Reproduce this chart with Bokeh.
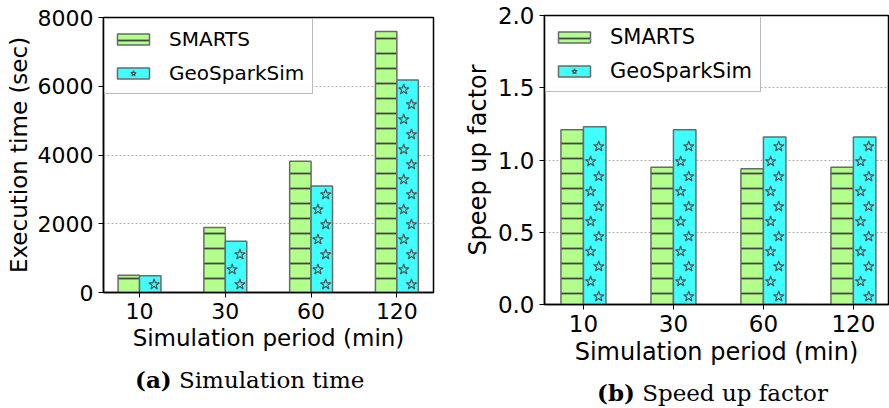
from bokeh.plotting import figure
from bokeh.layouts import row, column
from bokeh.models import Range1d, FixedTicker, Div
from bokeh.embed import file_html
from bokeh.resources import INLINE

# ---- data ----
periods = ["10", "30", "60", "120"]
series = ["SMARTS", "GeoSparkSim"]
exec_smarts = [500, 1890, 3820, 7590]
exec_geo = [490, 1490, 3100, 6180]
speed_smarts = [1.21, 0.95, 0.94, 0.95]
speed_geo = [1.23, 1.21, 1.16, 1.16]
exec_ticks = [0, 2000, 4000, 6000, 8000]
speed_ticks = [0.0, 0.5, 1.0, 1.5, 2.0]
speed_tick_labels = ["0.0", "0.5", "1.0", "1.5", "2.0"]

GREEN = "#b3ff8c"
CYAN = "#40ffff"
EDGE = "#6a6a6a"
HATCH = "#444444"
STAR = "#555555"


def star_points(centers, tops, w, ppx_x, ppx_y, step=15.0, start=8.0, r=4.5):
    """Star hatch positions derived from each bar's extent (staggered rows)."""
    xs, ys = [], []
    for xc, top in zip(centers, tops):
        h_px = top * ppx_y
        y, k = start, 0
        while y + r <= h_px - 1:
            frac = 0.68 if k % 2 == 0 else 0.32
            xs.append(xc - w / 2 + frac * w)
            ys.append(y / ppx_y)
            y += step
            k += 1
    return xs, ys


def make_fig(width, height, borders, xr, yr, yvals, ticks, tick_labels, ylabel,
             fs_tick, fs_lab, fs_leg):
    left, right, top, bottom = borders
    p = figure(width=width, height=height, x_range=Range1d(*xr), y_range=Range1d(*yr),
               output_backend="svg", toolbar_location=None,
               min_border_left=left, min_border_right=right,
               min_border_top=top, min_border_bottom=bottom)
    try:
        p.frame_align = False
    except Exception:
        pass
    xs = list(range(len(periods)))
    w = 0.25
    ppx_x = (width - left - right) / (xr[1] - xr[0])
    ppx_y = (height - top - bottom) / (yr[1] - yr[0])

    p.vbar(x=[x - w / 2 for x in xs], top=yvals[0], width=w, bottom=0,
           fill_color=GREEN, line_color=EDGE, line_width=1.5,
           hatch_pattern="horizontal_line", hatch_color=HATCH, hatch_scale=15, hatch_weight=1.8,
           legend_label=series[0])
    geo_x = [x + w / 2 for x in xs]
    p.vbar(x=geo_x, top=yvals[1], width=w, bottom=0,
           fill_color=CYAN, line_color=EDGE, line_width=1.5,
           legend_label=series[1])
    sx, sy = star_points(geo_x, yvals[1], w, ppx_x, ppx_y)
    p.scatter(x=sx, y=sy, marker="star", size=11, fill_color=None,
              line_color=STAR, line_width=1.2, legend_label=series[1])

    p.outline_line_color = "black"
    p.outline_line_width = 1.5
    p.xgrid.grid_line_color = None
    p.ygrid.grid_line_color = "#b0b0b0"
    p.ygrid.grid_line_dash = "2 2"
    p.ygrid.grid_line_width = 1

    p.xaxis.ticker = FixedTicker(ticks=xs)
    p.xaxis.major_label_overrides = {i: periods[i] for i in xs}
    p.yaxis.ticker = FixedTicker(ticks=ticks)
    p.yaxis.major_label_overrides = {t: l for t, l in zip(ticks, tick_labels)}
    for ax in (p.xaxis[0], p.yaxis[0]):
        ax.axis_line_color = "black"
        ax.axis_line_width = 1.5
        ax.major_tick_in = 0
        ax.major_tick_out = 5
        ax.major_tick_line_color = "black"
        ax.minor_tick_line_color = None
        ax.major_label_text_font = "DejaVu Sans"
        ax.major_label_text_font_size = fs_tick
        ax.major_label_text_color = "black"
        ax.major_label_standoff = 5
        ax.axis_label_text_font = "DejaVu Sans"
        ax.axis_label_text_font_size = fs_lab
        ax.axis_label_text_font_style = "normal"
        ax.axis_label_text_color = "black"
        ax.axis_label_standoff = 3
    p.xaxis.axis_label = "Simulation period (min)"
    p.yaxis.axis_label = ylabel

    lg = p.legend[0]
    lg.location = "top_left"
    lg.margin = 1
    lg.padding = 8
    lg.spacing = 10
    lg.glyph_width = 40
    lg.glyph_height = 14
    lg.label_height = 20
    lg.label_standoff = 16
    lg.label_text_font = "DejaVu Sans"
    lg.label_text_font_size = fs_leg
    lg.label_text_color = "black"
    lg.border_line_color = "#777777"
    lg.border_line_width = 1
    lg.background_fill_alpha = 0.9
    return p


def caption(bold, rest, width, height, pad_left, pad_top):
    return Div(text="<b>%s</b> %s" % (bold, rest), width=width, height=height,
               styles={"font-family": "'DejaVu Serif', serif", "font-size": "23px",
                       "line-height": "27px", "color": "black", "white-space": "nowrap",
                       "padding-left": "%dpx" % pad_left, "padding-top": "%dpx" % pad_top,
                       "box-sizing": "border-box", "margin": "0"})


p1 = make_fig(440, 366, (103, 7, 17, 74), (-0.42, 3.427), (0, 8000),
              [exec_smarts, exec_geo], exec_ticks, [str(t) for t in exec_ticks],
              "Execution time (sec)", "22px", "23px", "20px")
p2 = make_fig(449, 379, (104, 1, 15, 75), (-0.433, 3.39), (0, 2.0),
              [speed_smarts, speed_geo], speed_ticks, speed_tick_labels,
              "Speep up factor", "23px", "24px", "21px")
d1 = caption("(a)", "Simulation time", 440, 42, 135, 0)
d2 = caption("(b)", "Speed up factor", 449, 29, 157, 0)

layout = row(column(p1, d1), column(p2, d2))
open("out.html", "w").write(file_html(layout, INLINE))
